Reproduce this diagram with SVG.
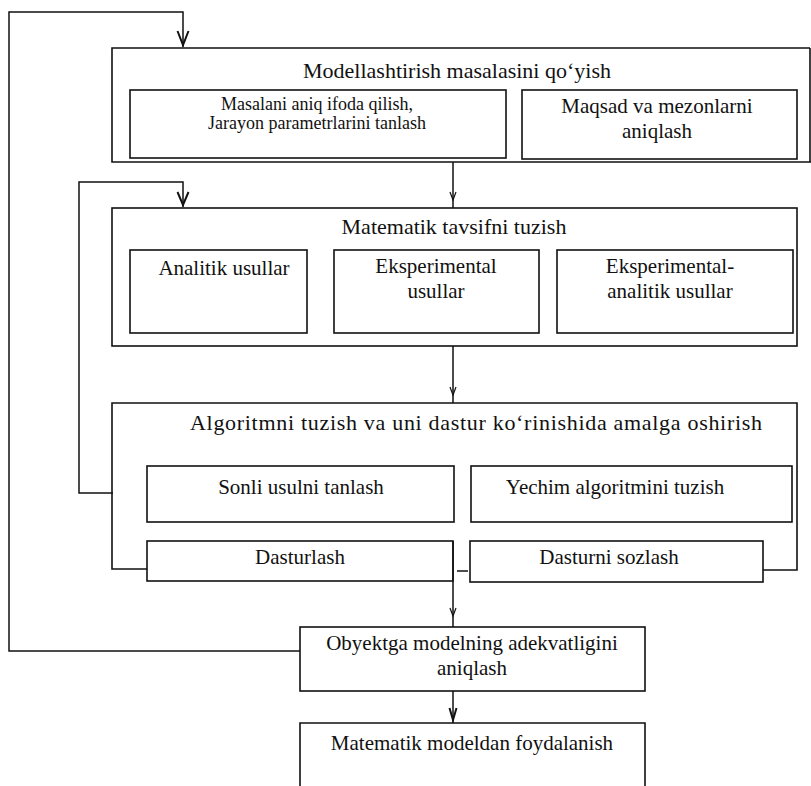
<svg xmlns="http://www.w3.org/2000/svg" width="811" height="786" viewBox="0 0 811 786">
<style>
  .box{fill:none;stroke:#111;stroke-width:1.6}
  .ln{fill:none;stroke:#111;stroke-width:1.5}
  .ah{fill:none;stroke:#111;stroke-width:2;stroke-linejoin:miter}
  .sah{fill:none;stroke:#111;stroke-width:1.2}
  text{font-family:"Liberation Serif","Times New Roman",serif;fill:#111;text-anchor:middle}
  .t{font-size:22px}
  .s{font-size:21px}
  .xs{font-size:18px}
</style>
<rect width="811" height="786" fill="#fff"/>
<g id="connectors">
  <path class="ln" d="M300 651 H9 V12 H183 V47"/>
  <path class="ah" d="M177.5 31 L183 45 L188.5 31"/>
  <path class="ln" d="M113 493 H79 V182 H183 V207"/>
  <path class="ah" d="M177.5 192 L183 205 L188.5 192"/>
  <path class="ln" d="M453 162 V208"/>
  <path class="sah" d="M450 192 L453 200 L456 192"/>
  <path class="ln" d="M453 346 V403"/>
  <path class="sah" d="M450 387 L453 395 L456 387"/>
  <path class="ln" d="M453 541 V627"/>
  <path class="sah" d="M450 608 L453 616 L456 608"/>
  <path class="ln" d="M457 571 H468"/>
  <path class="ln" d="M453 691 V723"/>
  <path class="ah" d="M449.5 708 L453 720 L456.5 708"/>
</g>
<g id="n1">
  <path class="box" d="M810 48 H112 V162 H811 M810 48 V162"/>
  <text class="t" x="457" y="78">Modellashtirish masalasini qo‘yish</text>
</g>
<g id="n1a">
  <rect class="box" x="130" y="90" width="376" height="68"/>
  <text class="xs" x="317" y="110">Masalani aniq ifoda qilish,</text>
  <text class="xs" x="317" y="129">Jarayon parametrlarini tanlash</text>
</g>
<g id="n1b">
  <rect class="box" x="522" y="90" width="275" height="69"/>
  <text class="s" x="657" y="113">Maqsad va mezonlarni</text>
  <text class="s" x="657" y="138">aniqlash</text>
</g>
<g id="n2">
  <rect class="box" x="112" y="208" width="685" height="138"/>
  <text class="t" x="454" y="234">Matematik tavsifni tuzish</text>
</g>
<g id="n2a">
  <rect class="box" x="130" y="250" width="177" height="83"/>
  <text class="s" x="224" y="275">Analitik usullar</text>
</g>
<g id="n2b">
  <rect class="box" x="334" y="250" width="205" height="83"/>
  <text class="s" x="436" y="273">Eksperimental</text>
  <text class="s" x="436" y="298">usullar</text>
</g>
<g id="n2c">
  <rect class="box" x="557" y="250" width="236" height="83"/>
  <text class="s" x="670" y="273">Eksperimental-</text>
  <text class="s" x="670" y="298">analitik usullar</text>
</g>
<g id="n3">
  <path class="box" d="M147 569 H112 V403 H797 V570 H763"/>
  <text class="t" x="476" y="430" font-size="23" textLength="572" lengthAdjust="spacing">Algoritmni tuzish va uni dastur ko‘rinishida amalga oshirish</text>
</g>
<g id="n3a">
  <rect class="box" x="147" y="466" width="307" height="56"/>
  <text class="s" x="301" y="494">Sonli usulni tanlash</text>
</g>
<g id="n3b">
  <rect class="box" x="471" y="466" width="321" height="56"/>
  <text class="s" x="615" y="494">Yechim algoritmini tuzish</text>
</g>
<g id="n3c">
  <rect class="box" x="147" y="541" width="306" height="40"/>
  <text class="s" x="300" y="564">Dasturlash</text>
</g>
<g id="n3d">
  <rect class="box" x="470" y="541" width="293" height="41"/>
  <text class="s" x="609" y="564">Dasturni sozlash</text>
</g>
<g id="n4">
  <rect class="box" x="300" y="627" width="345" height="64"/>
  <text class="s" x="472" y="650">Obyektga modelning adekvatligini</text>
  <text class="s" x="472" y="675">aniqlash</text>
</g>
<g id="n5">
  <path class="box" d="M300 790 V723 H645 V790"/>
  <text class="s" x="472" y="750">Matematik modeldan foydalanish</text>
</g>
</svg>
